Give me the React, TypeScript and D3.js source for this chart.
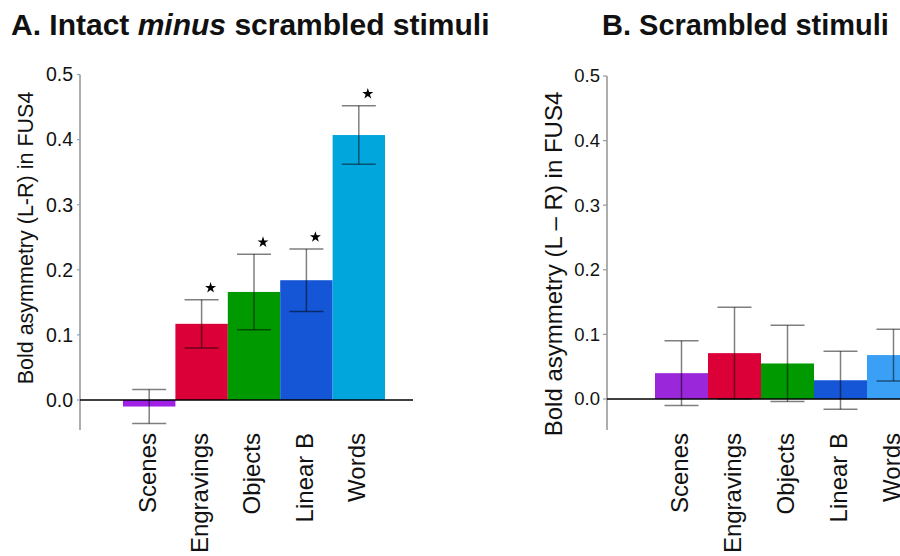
import React from "react";
import * as d3 from "d3";

const categories = ["Scenes", "Engravings", "Objects", "Linear B", "Words"];
const meansA = [-0.01, 0.117, 0.166, 0.184, 0.407];
const semA = [0.026, 0.037, 0.058, 0.048, 0.045];
const sigA = [false, true, true, true, true];
const meansB = [0.04, 0.071, 0.055, 0.029, 0.068];
const semB = [0.05, 0.071, 0.059, 0.045, 0.04];
const yTicks = [0, 0.1, 0.2, 0.3, 0.4, 0.5];
const colorsA = ["#A020E6", "#DC0038", "#009A00", "#1456D6", "#00A6DC"];
const colorsB = ["#9B27DA", "#DC0038", "#009A00", "#1456D6", "#3AA0F5"];

const FONT = "Liberation Sans, Arial, Helvetica, sans-serif";

type PanelProps = {
  means: number[];
  sems: number[];
  sig: boolean[] | null;
  colors: string[];
  axisX: number;
  y0: number;
  y5: number;
  barStart: number;
  barW: number;
  zeroEnd: number;
  tickFont: number;
  ylabel: string;
  ylabelX: number;
  ylabelY: number;
  ylabelFont: number;
  tickLen: number;
  tickColor: string;
};

function Panel(p: PanelProps) {
  const y = d3.scaleLinear().domain([0, 0.5]).range([p.y0, p.y5]);
  const x = d3
    .scaleBand<string>()
    .domain(categories)
    .range([p.barStart, p.barStart + p.barW * categories.length])
    .padding(0);
  const star = d3.symbol().type(d3.symbolStar).size(38)();
  const capW = 34;
  return (
    <g>
      {categories.map((c, i) => {
        const v = p.means[i];
        const top = y(Math.max(0, v));
        const bot = y(Math.min(0, v));
        return (
          <rect
            key={c}
            x={x(c)!}
            y={top}
            width={x.bandwidth()}
            height={Math.max(0, bot - top)}
            fill={p.colors[i]}
          />
        );
      })}
      <line x1={p.axisX} x2={p.axisX} y1={p.y5} y2={430} stroke="#9a9a9a" strokeWidth={1.6} />
      {yTicks.map((t) => (
        <g key={t}>
          <line
            x1={p.axisX - p.tickLen}
            x2={p.axisX}
            y1={y(t)}
            y2={y(t)}
            stroke={p.tickColor}
            strokeWidth={1.2}
          />
          <text
            x={p.axisX - 7}
            y={y(t)}
            dy="0.35em"
            textAnchor="end"
            fontSize={p.tickFont}
            fontFamily={FONT}
            fill="#111"
          >
            {d3.format(".1f")(t)}
          </text>
        </g>
      ))}
      <line x1={p.axisX} x2={p.zeroEnd} y1={y(0)} y2={y(0)} stroke="#000" strokeWidth={1.6} />
      {categories.map((c, i) => {
        const cx = x(c)! + x.bandwidth() / 2;
        const hi = y(p.means[i] + p.sems[i]);
        const lo = y(p.means[i] - p.sems[i]);
        return (
          <g key={"e" + c} stroke="rgba(0,0,0,0.5)" strokeWidth={1.5}>
            <line x1={cx} x2={cx} y1={hi} y2={lo} />
            <line x1={cx - capW / 2} x2={cx + capW / 2} y1={hi} y2={hi} />
            <line x1={cx - capW / 2} x2={cx + capW / 2} y1={lo} y2={lo} />
          </g>
        );
      })}
      {p.sig &&
        categories.map((c, i) =>
          p.sig![i] ? (
            <path
              key={"s" + c}
              d={star!}
              transform={`translate(${x(c)! + x.bandwidth() / 2 + 9},${y(p.means[i] + p.sems[i]) - 12})`}
              fill="#000"
            />
          ) : null
        )}
      {categories.map((c) => (
        <text
          key={"l" + c}
          transform={`translate(${x(c)! + x.bandwidth() / 2 - 2},433) rotate(-90)`}
          dy="0.35em"
          textAnchor="end"
          fontSize={24}
          fontFamily={FONT}
          fill="#111"
        >
          {c}
        </text>
      ))}
      <text
        transform={`translate(${p.ylabelX},${p.ylabelY}) rotate(-90)`}
        textAnchor="middle"
        fontSize={p.ylabelFont}
        fontFamily={FONT}
        fill="#111"
      >
        {p.ylabel}
      </text>
    </g>
  );
}

export default function App() {
  return (
    <svg
      width={900}
      height={556}
      style={{ position: "absolute", left: 0, top: 0, background: "#fff" }}
    >
      <rect width={900} height={556} fill="#fff" />
      <text x={11} y={35} fontSize={30} fontWeight="bold" fontFamily={FONT} fill="#111">
        A. Intact <tspan fontStyle="italic">minus</tspan> scrambled stimuli
      </text>
      <text x={602} y={35} fontSize={29} fontWeight="bold" fontFamily={FONT} fill="#111">
        B. Scrambled stimuli
      </text>
      <Panel
        means={meansA}
        sems={semA}
        sig={sigA}
        colors={colorsA}
        axisX={80}
        y0={400}
        y5={74.5}
        barStart={123}
        barW={52.4}
        zeroEnd={413}
        tickFont={19.5}
        ylabel="Bold asymmetry (L-R) in FUS4"
        ylabelX={33}
        ylabelY={238}
        ylabelFont={21.5}
        tickLen={3}
        tickColor="#8aa4c0"
      />
      <Panel
        means={meansB}
        sems={semB}
        sig={null}
        colors={colorsB}
        axisX={607}
        y0={399}
        y5={76}
        barStart={655}
        barW={53}
        zeroEnd={900}
        tickFont={18.5}
        ylabel="Bold asymmetry (L – R) in FUS4"
        ylabelX={562}
        ylabelY={264}
        ylabelFont={24}
        tickLen={4}
        tickColor="#9a9a9a"
      />
    </svg>
  );
}
